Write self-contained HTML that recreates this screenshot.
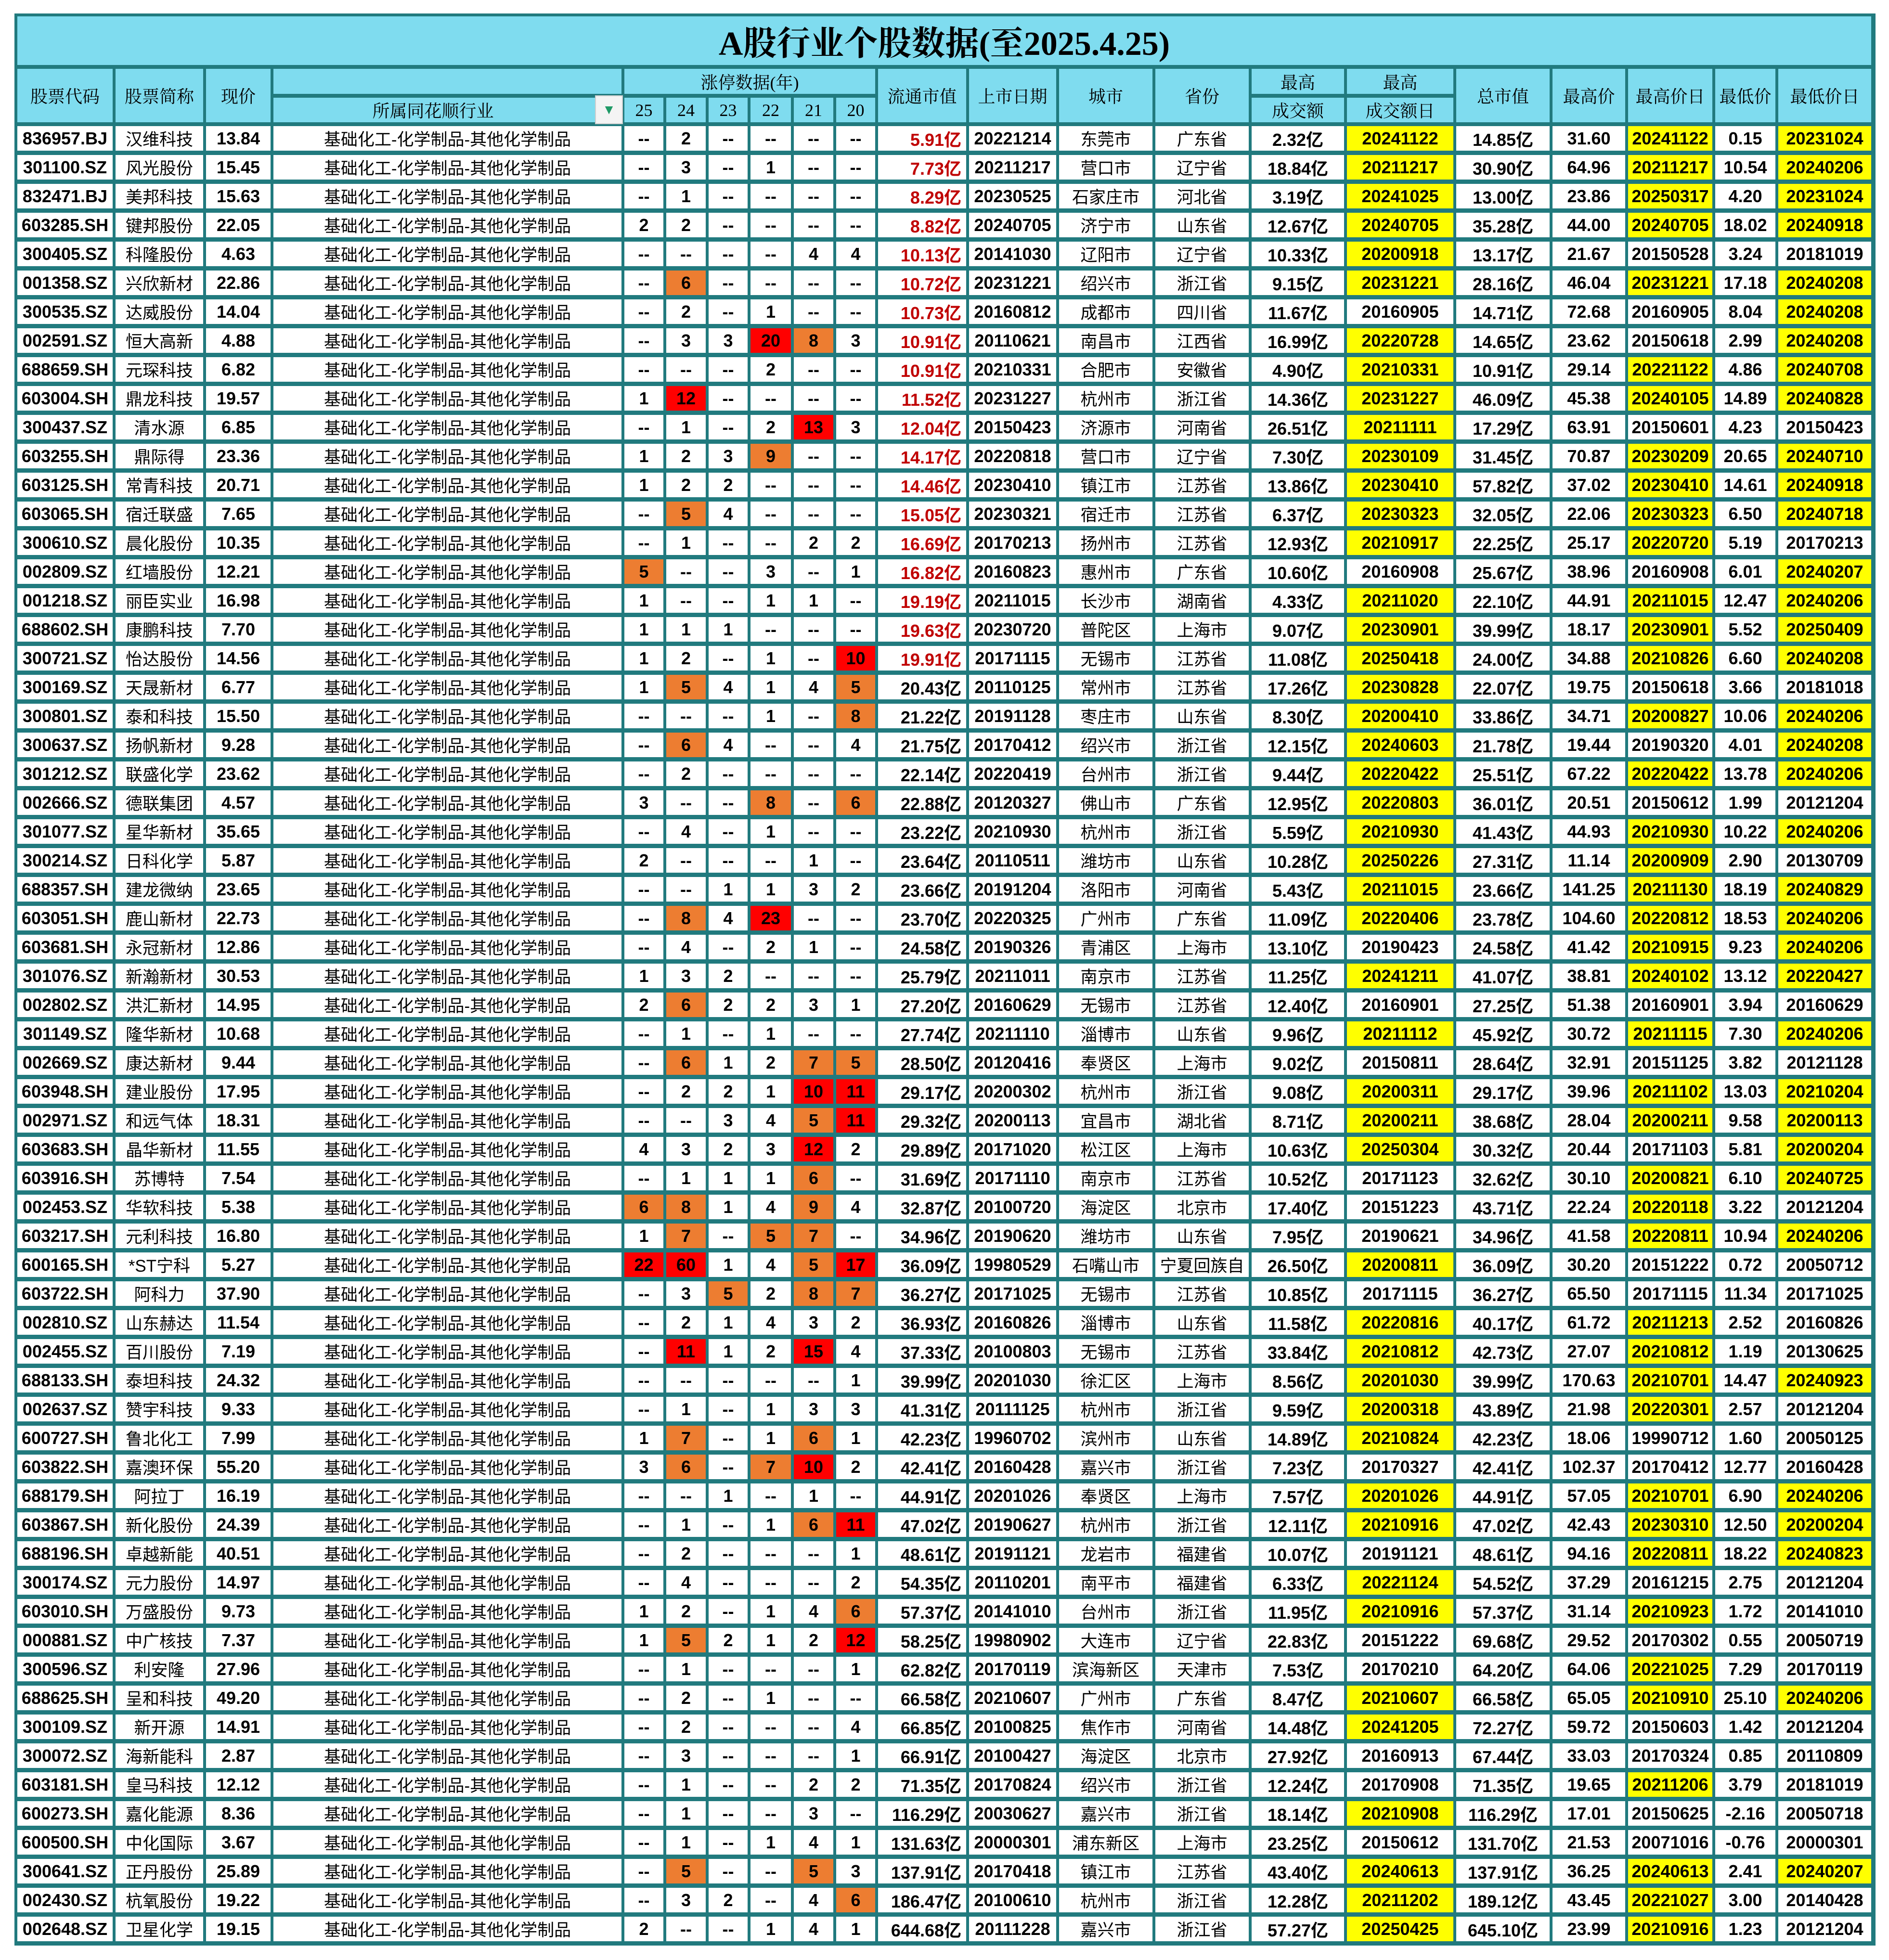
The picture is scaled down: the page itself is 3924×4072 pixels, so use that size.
<!DOCTYPE html>
<html><head><meta charset="utf-8">
<style>
html,body{margin:0;padding:0;background:#fff;}
#root{position:relative;width:3924px;height:4072px;overflow:hidden;background:#fff;}
#frame{position:absolute;left:30px;top:28px;width:3866px;height:4014px;background:#217a7e;}
.c{position:absolute;display:flex;align-items:center;justify-content:center;box-sizing:border-box;white-space:nowrap;overflow:hidden;font-family:"Liberation Sans","Noto Sans CJK SC",sans-serif;font-size:36px;font-weight:bold;color:#000;background:#fff;}
.h{background:#7fdcef;font-family:"Liberation Serif","Noto Serif CJK SC","Noto Sans CJK SC",serif;font-weight:normal;font-size:36px;}
.cn{font-weight:normal;font-size:35px;}
</style></head>
<body>
<div id="root">
<div id="frame"></div>
</div>
<script>
const codes=["836957.BJ","301100.SZ","832471.BJ","603285.SH","300405.SZ","001358.SZ","300535.SZ","002591.SZ","688659.SH","603004.SH","300437.SZ","603255.SH","603125.SH","603065.SH","300610.SZ","002809.SZ","001218.SZ","688602.SH","300721.SZ","300169.SZ","300801.SZ","300637.SZ","301212.SZ","002666.SZ","301077.SZ","300214.SZ","688357.SH","603051.SH","603681.SH","301076.SZ","002802.SZ","301149.SZ","002669.SZ","603948.SH","002971.SZ","603683.SH","603916.SH","002453.SZ","603217.SH","600165.SH","603722.SH","002810.SZ","002455.SZ","688133.SH","002637.SZ","600727.SH","603822.SH","688179.SH","603867.SH","688196.SH","300174.SZ","603010.SH","000881.SZ","300596.SZ","688625.SH","300109.SZ","300072.SZ","603181.SH","600273.SH","600500.SH","300641.SZ","002430.SZ","002648.SZ"];
const names=["汉维科技","风光股份","美邦科技","键邦股份","科隆股份","兴欣新材","达威股份","恒大高新","元琛科技","鼎龙科技","清水源","鼎际得","常青科技","宿迁联盛","晨化股份","红墙股份","丽臣实业","康鹏科技","怡达股份","天晟新材","泰和科技","扬帆新材","联盛化学","德联集团","星华新材","日科化学","建龙微纳","鹿山新材","永冠新材","新瀚新材","洪汇新材","隆华新材","康达新材","建业股份","和远气体","晶华新材","苏博特","华软科技","元利科技","*ST宁科","阿科力","山东赫达","百川股份","泰坦科技","赞宇科技","鲁北化工","嘉澳环保","阿拉丁","新化股份","卓越新能","元力股份","万盛股份","中广核技","利安隆","呈和科技","新开源","海新能科","皇马科技","嘉化能源","中化国际","正丹股份","杭氧股份","卫星化学"];
const prices=["13.84","15.45","15.63","22.05","4.63","22.86","14.04","4.88","6.82","19.57","6.85","23.36","20.71","7.65","10.35","12.21","16.98","7.70","14.56","6.77","15.50","9.28","23.62","4.57","35.65","5.87","23.65","22.73","12.86","30.53","14.95","10.68","9.44","17.95","18.31","11.55","7.54","5.38","16.80","5.27","37.90","11.54","7.19","24.32","9.33","7.99","55.20","16.19","24.39","40.51","14.97","9.73","7.37","27.96","49.20","14.91","2.87","12.12","8.36","3.67","25.89","19.22","19.15"];
const limitUps=[
"-- 2 -- -- -- --","-- 3 -- 1 -- --","-- 1 -- -- -- --","2 2 -- -- -- --","-- -- -- -- 4 4","-- 6 -- -- -- --","-- 2 -- 1 -- --","-- 3 3 20 8 3","-- -- -- 2 -- --","1 12 -- -- -- --",
"-- 1 -- 2 13 3","1 2 3 9 -- --","1 2 2 -- -- --","-- 5 4 -- -- --","-- 1 -- -- 2 2","5 -- -- 3 -- 1","1 -- -- 1 1 --","1 1 1 -- -- --","1 2 -- 1 -- 10","1 5 4 1 4 5",
"-- -- -- 1 -- 8","-- 6 4 -- -- 4","-- 2 -- -- -- --","3 -- -- 8 -- 6","-- 4 -- 1 -- --","2 -- -- -- 1 --","-- -- 1 1 3 2","-- 8 4 23 -- --","-- 4 -- 2 1 --","1 3 2 -- -- --",
"2 6 2 2 3 1","-- 1 -- 1 -- --","-- 6 1 2 7 5","-- 2 2 1 10 11","-- -- 3 4 5 11","4 3 2 3 12 2","-- 1 1 1 6 --","6 8 1 4 9 4","1 7 -- 5 7 --","22 60 1 4 5 17",
"-- 3 5 2 8 7","-- 2 1 4 3 2","-- 11 1 2 15 4","-- -- -- -- -- 1","-- 1 -- 1 3 3","1 7 -- 1 6 1","3 6 -- 7 10 2","-- -- 1 -- 1 --","-- 1 -- 1 6 11","-- 2 -- -- -- 1",
"-- 4 -- -- -- 2","1 2 -- 1 4 6","1 5 2 1 2 12","-- 1 -- -- -- 1","-- 2 -- 1 -- --","-- 2 -- -- -- 4","-- 3 -- -- -- 1","-- 1 -- -- 2 2","-- 1 -- -- 3 --","-- 1 -- 1 4 1",
"-- 5 -- -- 5 3","-- 3 2 -- 4 6","2 -- -- 1 4 1"];
const floatCap=[5.91,7.73,8.29,8.82,10.13,10.72,10.73,10.91,10.91,11.52,12.04,14.17,14.46,15.05,16.69,16.82,19.19,19.63,19.91,20.43,21.22,21.75,22.14,22.88,23.22,23.64,23.66,23.70,24.58,25.79,27.20,27.74,28.50,29.17,29.32,29.89,31.69,32.87,34.96,36.09,36.27,36.93,37.33,39.99,41.31,42.23,42.41,44.91,47.02,48.61,54.35,57.37,58.25,62.82,66.58,66.85,66.91,71.35,116.29,131.63,137.91,186.47,644.68];
const listDates=["20221214","20211217","20230525","20240705","20141030","20231221","20160812","20110621","20210331","20231227","20150423","20220818","20230410","20230321","20170213","20160823","20211015","20230720","20171115","20110125","20191128","20170412","20220419","20120327","20210930","20110511","20191204","20220325","20190326","20211011","20160629","20211110","20120416","20200302","20200113","20171020","20171110","20100720","20190620","19980529","20171025","20160826","20100803","20201030","20111125","19960702","20160428","20201026","20190627","20191121","20110201","20141010","19980902","20170119","20210607","20100825","20100427","20170824","20030627","20000301","20170418","20100610","20111228"];
const cities=["东莞市","营口市","石家庄市","济宁市","辽阳市","绍兴市","成都市","南昌市","合肥市","杭州市","济源市","营口市","镇江市","宿迁市","扬州市","惠州市","长沙市","普陀区","无锡市","常州市","枣庄市","绍兴市","台州市","佛山市","杭州市","潍坊市","洛阳市","广州市","青浦区","南京市","无锡市","淄博市","奉贤区","杭州市","宜昌市","松江区","南京市","海淀区","潍坊市","石嘴山市","无锡市","淄博市","无锡市","徐汇区","杭州市","滨州市","嘉兴市","奉贤区","杭州市","龙岩市","南平市","台州市","大连市","滨海新区","广州市","焦作市","海淀区","绍兴市","嘉兴市","浦东新区","镇江市","杭州市","嘉兴市"];
const provinces=["广东省","辽宁省","河北省","山东省","辽宁省","浙江省","四川省","江西省","安徽省","浙江省","河南省","辽宁省","江苏省","江苏省","江苏省","广东省","湖南省","上海市","江苏省","江苏省","山东省","浙江省","浙江省","广东省","浙江省","山东省","河南省","广东省","上海市","江苏省","江苏省","山东省","上海市","浙江省","湖北省","上海市","江苏省","北京市","山东省","宁夏回族自","江苏省","山东省","江苏省","上海市","浙江省","山东省","浙江省","上海市","浙江省","福建省","福建省","浙江省","辽宁省","天津市","广东省","河南省","北京市","浙江省","浙江省","上海市","江苏省","浙江省","浙江省"];
const maxTurnover=[2.32,18.84,3.19,12.67,10.33,9.15,11.67,16.99,4.90,14.36,26.51,7.30,13.86,6.37,12.93,10.60,4.33,9.07,11.08,17.26,8.30,12.15,9.44,12.95,5.59,10.28,5.43,11.09,13.10,11.25,12.40,9.96,9.02,9.08,8.71,10.63,10.52,17.40,7.95,26.50,10.85,11.58,33.84,8.56,9.59,14.89,7.23,7.57,12.11,10.07,6.33,11.95,22.83,7.53,8.47,14.48,27.92,12.24,18.14,23.25,43.40,12.28,57.27];
const maxTurnoverDates=["20241122","20211217","20241025","20240705","20200918","20231221","20160905","20220728","20210331","20231227","20211111","20230109","20230410","20230323","20210917","20160908","20211020","20230901","20250418","20230828","20200410","20240603","20220422","20220803","20210930","20250226","20211015","20220406","20190423","20241211","20160901","20211112","20150811","20200311","20200211","20250304","20171123","20151223","20190621","20200811","20171115","20220816","20210812","20201030","20200318","20210824","20170327","20201026","20210916","20191121","20221124","20210916","20151222","20170210","20210607","20241205","20160913","20170908","20210908","20150612","20240613","20211202","20250425"];
const totalCap=[14.85,30.90,13.00,35.28,13.17,28.16,14.71,14.65,10.91,46.09,17.29,31.45,57.82,32.05,22.25,25.67,22.10,39.99,24.00,22.07,33.86,21.78,25.51,36.01,41.43,27.31,23.66,23.78,24.58,41.07,27.25,45.92,28.64,29.17,38.68,30.32,32.62,43.71,34.96,36.09,36.27,40.17,42.73,39.99,43.89,42.23,42.41,44.91,47.02,48.61,54.52,57.37,69.68,64.20,66.58,72.27,67.44,71.35,116.29,131.70,137.91,189.12,645.10];
const highPrices=["31.60","64.96","23.86","44.00","21.67","46.04","72.68","23.62","29.14","45.38","63.91","70.87","37.02","22.06","25.17","38.96","44.91","18.17","34.88","19.75","34.71","19.44","67.22","20.51","44.93","11.14","141.25","104.60","41.42","38.81","51.38","30.72","32.91","39.96","28.04","20.44","30.10","22.24","41.58","30.20","65.50","61.72","27.07","170.63","21.98","18.06","102.37","57.05","42.43","94.16","37.29","31.14","29.52","64.06","65.05","59.72","33.03","19.65","17.01","21.53","36.25","43.45","23.99"];
const highDates=["20241122","20211217","20250317","20240705","20150528","20231221","20160905","20150618","20221122","20240105","20150601","20230209","20230410","20230323","20220720","20160908","20211015","20230901","20210826","20150618","20200827","20190320","20220422","20150612","20210930","20200909","20211130","20220812","20210915","20240102","20160901","20211115","20151125","20211102","20200211","20171103","20200821","20220118","20220811","20151222","20171115","20211213","20210812","20210701","20220301","19990712","20170412","20210701","20230310","20220811","20161215","20210923","20170302","20221025","20210910","20150603","20170324","20211206","20150625","20071016","20240613","20221027","20210916"];
const lowPrices=["0.15","10.54","4.20","18.02","3.24","17.18","8.04","2.99","4.86","14.89","4.23","20.65","14.61","6.50","5.19","6.01","12.47","5.52","6.60","3.66","10.06","4.01","13.78","1.99","10.22","2.90","18.19","18.53","9.23","13.12","3.94","7.30","3.82","13.03","9.58","5.81","6.10","3.22","10.94","0.72","11.34","2.52","1.19","14.47","2.57","1.60","12.77","6.90","12.50","18.22","2.75","1.72","0.55","7.29","25.10","1.42","0.85","3.79","-2.16","-0.76","2.41","3.00","1.23"];
const lowDates=["20231024","20240206","20231024","20240918","20181019","20240208","20240208","20240208","20240708","20240828","20150423","20240710","20240918","20240718","20170213","20240207","20240206","20250409","20240208","20181018","20240206","20240208","20240206","20121204","20240206","20130709","20240829","20240206","20240206","20220427","20160629","20240206","20121128","20210204","20200113","20200204","20240725","20121204","20240206","20050712","20171025","20160826","20130625","20240923","20121204","20050125","20160428","20240206","20200204","20240823","20121204","20141010","20050719","20170119","20240206","20121204","20110809","20181019","20050718","20000301","20240207","20140428","20121204"];
const industry="基础化工-化学制品-其他化学制品";

const B=[31,237,425,565,1294,1381,1469,1556,1646,1734,1821,2010,2197,2397,2597,2795,3022,3222,3379,3560,3691,3892];
const root=document.getElementById('root');
function cell(x0,x1,y0,y1,text,cls,extra){
  const d=document.createElement('div');
  d.className='c '+(cls||'');
  d.style.left=(x0)+'px';d.style.top=y0+'px';d.style.width=(x1-x0)+'px';d.style.height=(y1-y0)+'px';
  d.textContent=text;
  if(extra){for(const k in extra)d.style[k]=extra[k];}
  root.appendChild(d);return d;
}
function L(i){return B[i]+(i===0?5:3);}
function R(i){return B[i]-(i===B.length-1?5:3);}
let t=cell(L(0),R(21),34,135,'A股行业个股数据(至2025.4.25)','h',{fontSize:'70px',fontWeight:'bold'});


const HT=143,HM1=195,HM2=203,HB=254;
const full=[[0,'股票代码'],[1,'股票简称'],[2,'现价'],[10,'流通市值'],[11,'上市日期'],[12,'城市'],[13,'省份'],[16,'总市值'],[17,'最高价'],[18,'最高价日'],[19,'最低价'],[20,'最低价日']];
full.forEach(([i,s])=>{const d=cell(L(i),R(i+1),HT,HB,s,'h');

});
let d=cell(L(3),R(4),HT,HM1,'','h');


d=cell(L(3),R(4),HM2,HB,'所属同花顺行业','h',{paddingRight:'60px'});


d=cell(1236,1294,198,258,'▼','',{background:'#f4f4f4',border:'2px solid #cfcfcf',color:'#1f9a66',fontSize:'28px'});


d=cell(L(4),R(10),HT,HM1,'涨停数据(年)','h');


['25','24','23','22','21','20'].forEach((s,k)=>{const e=cell(L(4+k),R(5+k),HM2,HB,s,'h');

});
[[14,'最高','成交额'],[15,'最高','成交额日']].forEach(([i,a,b])=>{
 let e=cell(L(i),R(i+1),HT,HM1,a,'h');
 
 
 e=cell(L(i),R(i+1),HM2,HB,b,'h');
 
 
});
const Y0=262,P=60,H=51;
const yellow='#ffff00';
for(let r=0;r<codes.length;r++){
  const y0=Y0+r*P,y1=y0+H;
  const vals=[codes[r],names[r],prices[r],industry];
  const cols=[];
  vals.forEach((v,i)=>cols.push([i,v,{}]));
  limitUps[r].split(' ').forEach((v,k)=>{
    const n=parseInt(v);let bg='#fff';
    if(!isNaN(n)){if(n>=10)bg='#ff0000';else if(n>=5)bg='#ed7d31';}
    cols.push([4+k,v,{background:bg}]);
  });
  cols.push([10,floatCap[r].toFixed(2)+'亿',{justifyContent:'flex-end',paddingRight:'10px',color:floatCap[r]<20?'#c00000':'#000'}]);
  cols.push([11,listDates[r],{}]);
  cols.push([12,cities[r],{}]);
  cols.push([13,provinces[r],{}]);
  cols.push([14,maxTurnover[r].toFixed(2)+'亿',{}]);
  cols.push([15,maxTurnoverDates[r],{background:maxTurnoverDates[r]>='20200101'?yellow:'#fff'}]);
  cols.push([16,totalCap[r].toFixed(2)+'亿',{}]);
  cols.push([17,highPrices[r],{}]);
  cols.push([18,highDates[r],{background:highDates[r]>='20200101'?yellow:'#fff'}]);
  cols.push([19,lowPrices[r],{}]);
  cols.push([20,lowDates[r],{background:lowDates[r]>='20200101'?yellow:'#fff'}]);
  cols.forEach(([i,v,st])=>{
    const cls=(i===1||i===3||i===12||i===13)?'cn':'';
    const e=cell(L(i),R(i+1),y0,y1,v,cls,st);
    
    
  });
}
</script>
</body></html>
